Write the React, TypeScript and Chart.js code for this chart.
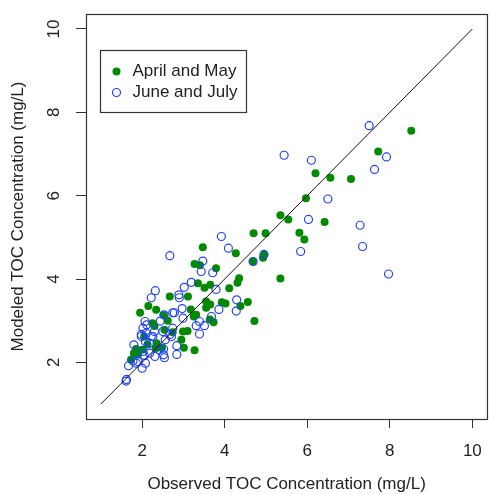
import { useEffect, useRef } from 'react';
import { Chart, registerables } from 'chart.js';

Chart.register(...registerables);

// ---- data ----
const aprMayObserved = [
  8.52, 7.72, 7.06, 6.20, 6.56, 5.97, 6.42, 5.35, 5.54, 5.81, 5.93, 4.70, 4.99, 4.96, 4.93, 4.68,
  5.35, 4.27, 3.47, 3.27, 3.40, 3.79, 4.35, 4.31, 4.11, 3.65, 3.51, 3.35, 3.11, 2.67, 3.55, 3.65,
  3.55, 3.93, 4.02, 4.56, 4.38, 4.72, 3.73, 3.64, 3.18, 3.31, 3.25, 3.10, 2.99, 2.95, 3.01, 3.27,
  1.95, 2.15, 2.34, 2.52, 2.25, 2.30, 2.54, 2.74, 2.35, 2.33, 1.85, 1.80, 1.73, 2.00, 1.90, 2.13,
  2.48, 2.62, 2.05,
];
const aprMayModeled = [
  7.56, 7.06, 6.40, 6.54, 6.43, 5.94, 5.37, 5.53, 5.43, 5.11, 4.95, 5.10, 5.10, 4.58, 4.51, 4.42,
  4.01, 4.62, 4.76, 4.36, 4.33, 4.26, 4.02, 3.91, 3.78, 3.86, 3.79, 3.90, 3.58, 3.58, 3.46, 3.39,
  3.31, 3.44, 3.41, 3.45, 3.35, 2.99, 2.96, 3.03, 3.27, 3.14, 3.10, 2.75, 2.74, 2.54, 2.35, 2.29,
  3.19, 3.35, 3.26, 3.13, 2.94, 2.87, 2.78, 2.72, 2.46, 2.34, 2.32, 2.22, 2.06, 2.30, 2.19, 2.43,
  2.35, 3.00, 2.62,
];
const junJulObserved = [
  7.50, 5.44, 6.10, 7.92, 7.63, 6.50, 6.03, 7.28, 7.34, 7.97, 5.84, 4.95, 4.69, 3.92, 4.09, 2.67,
  3.47, 3.43, 3.71, 3.79, 3.19, 3.02, 2.89, 2.90, 2.32, 2.22, 4.29, 4.28, 3.86, 2.97, 2.74, 2.78,
  2.53, 2.44, 2.99, 3.68, 3.39, 3.31, 3.51, 3.39, 2.84, 2.84, 2.54, 2.52, 2.31, 2.52, 2.41, 2.74,
  2.67, 2.50, 2.56, 2.71, 2.07, 2.11, 2.02, 1.98, 1.98, 2.10, 2.22, 2.08, 2.18, 2.26, 2.30, 1.80,
  2.02, 2.05, 2.18, 1.78, 1.86, 1.90, 2.00, 2.08, 1.67, 1.61, 1.62,
];
const junJulModeled = [
  7.68, 6.97, 6.85, 6.93, 6.63, 5.92, 5.43, 5.29, 4.78, 4.12, 4.66, 4.59, 4.42, 5.02, 4.74, 4.56,
  4.43, 4.18, 4.15, 3.75, 3.92, 3.80, 3.62, 3.55, 3.72, 3.55, 3.50, 3.23, 3.27, 3.29, 3.19, 3.19,
  3.14, 2.99, 3.06, 3.10, 2.98, 2.88, 2.88, 2.68, 2.40, 2.19, 2.11, 2.18, 2.14, 2.32, 2.30, 2.82,
  2.67, 2.74, 2.54, 2.62, 2.98, 2.90, 2.82, 2.67, 2.62, 2.70, 2.62, 2.50, 2.46, 2.62, 2.74, 2.42,
  2.26, 2.17, 2.22, 2.03, 1.98, 2.02, 1.86, 1.98, 1.92, 1.55, 1.59,
];
const oneToOneX = [1, 10];
const oneToOneY = [1, 10];
const tickValues = [2, 4, 6, 8, 10];
const axisMin = 0.64;
const axisMax = 10.36;
const xTitle = 'Observed TOC Concentration (mg/L)';
const yTitle = 'Modeled TOC Concentration (mg/L)';
const legendLabels = ['April and May', 'June and July'];

const FONT = '"Liberation Sans", Arial, Helvetica, sans-serif';
const GREEN = '#008A00';
const BLUE = '#2242FF';
const INK = '#222';

const zip = (xs: number[], ys: number[]) => xs.map((x, i) => ({ x, y: ys[i] }));

const overlay = {
  id: 'overlay',
  afterDraw(chart: any) {
    const { ctx, chartArea: a, scales } = chart;
    ctx.save();
    // frame
    ctx.strokeStyle = '#333';
    ctx.lineWidth = 1.2;
    const l = Math.round(a.left) + 0.5;
    const t = Math.round(a.top) + 0.5;
    ctx.strokeRect(l, t, Math.round(a.right - a.left), Math.round(a.bottom - a.top));

    // y tick labels, parallel to the axis
    ctx.font = `17px ${FONT}`;
    ctx.fillStyle = INK;
    ctx.textAlign = 'center';
    ctx.textBaseline = 'middle';
    for (const tk of scales.y.ticks) {
      const py = scales.y.getPixelForValue(tk.value);
      ctx.save();
      ctx.translate(a.left - 32, py);
      ctx.rotate(-Math.PI / 2);
      ctx.fillText(String(tk.value), 0, 0);
      ctx.restore();
    }

    // legend
    const bx = Math.round(a.left + 14) + 0.5;
    const by = Math.round(a.top + 36) + 0.5;
    ctx.strokeRect(bx, by, 146, 62);
    const rows = [by + 21, by + 42];
    ctx.textAlign = 'left';
    legendLabels.forEach((label, i) => {
      const cy = rows[i];
      const cx = bx + 16;
      ctx.beginPath();
      ctx.arc(cx, cy, 4, 0, Math.PI * 2);
      if (i === 0) {
        ctx.fillStyle = GREEN;
        ctx.fill();
      } else {
        ctx.strokeStyle = BLUE;
        ctx.lineWidth = 1.2;
        ctx.stroke();
      }
      ctx.fillStyle = INK;
      ctx.fillText(label, bx + 32, cy);
    });
    ctx.restore();
  },
};

export default function App() {
  const ref = useRef<HTMLCanvasElement>(null);
  useEffect(() => {
    if (!ref.current) return;
    const font = { family: FONT, size: 17 };
    const chart = new Chart(ref.current, {
      type: 'scatter',
      data: {
        datasets: [
          {
            label: '1:1',
            data: zip(oneToOneX, oneToOneY),
            showLine: true,
            borderColor: '#111',
            borderWidth: 1,
            pointRadius: 0,
            fill: false,
          } as any,
          {
            label: legendLabels[1],
            data: zip(junJulObserved, junJulModeled),
            pointRadius: 4,
            pointBackgroundColor: 'rgba(0,0,0,0)',
            pointBorderColor: BLUE,
            pointBorderWidth: 1.2,
          },
          {
            label: legendLabels[0],
            data: zip(aprMayObserved, aprMayModeled),
            pointRadius: 4,
            pointBackgroundColor: GREEN,
            pointBorderColor: GREEN,
            pointBorderWidth: 0,
          },
        ],
      },
      options: {
        responsive: false,
        animation: false,
        events: [],
        layout: { padding: { top: 14, right: 5, left: 0, bottom: 0 } },
        plugins: { legend: { display: false }, tooltip: { enabled: false } },
        scales: {
          x: {
            type: 'linear',
            min: axisMin,
            max: axisMax,
            afterBuildTicks: (s: any) => {
              s.ticks = tickValues.map((v) => ({ value: v }));
            },
            afterFit: (s: any) => {
              s.height = 76;
            },
            ticks: { font, color: INK, padding: 13, maxRotation: 0 },
            grid: { drawOnChartArea: false, drawTicks: true, tickLength: 9, tickColor: '#333', tickWidth: 1 },
            border: { display: false },
            title: { display: true, text: xTitle, font, color: INK, padding: 0 },
          },
          y: {
            type: 'linear',
            min: axisMin,
            max: axisMax,
            afterBuildTicks: (s: any) => {
              s.ticks = tickValues.map((v) => ({ value: v }));
            },
            afterFit: (s: any) => {
              s.width = 86;
            },
            ticks: { font, color: 'rgba(0,0,0,0)' },
            grid: { drawOnChartArea: false, drawTicks: true, tickLength: 10, tickColor: '#333', tickWidth: 1 },
            border: { display: false },
            title: { display: true, text: yTitle, font, color: INK, padding: { top: 8, bottom: 0 } },
          },
        },
      },
      plugins: [overlay],
    });
    return () => chart.destroy();
  }, []);

  return (
    <div style={{ position: 'absolute', left: 0, top: 0, width: 489, height: 495, overflow: 'hidden', background: '#fff' }}>
      <canvas ref={ref} width={495} height={495} style={{ display: 'block', width: 495, height: 495 }} />
    </div>
  );
}
